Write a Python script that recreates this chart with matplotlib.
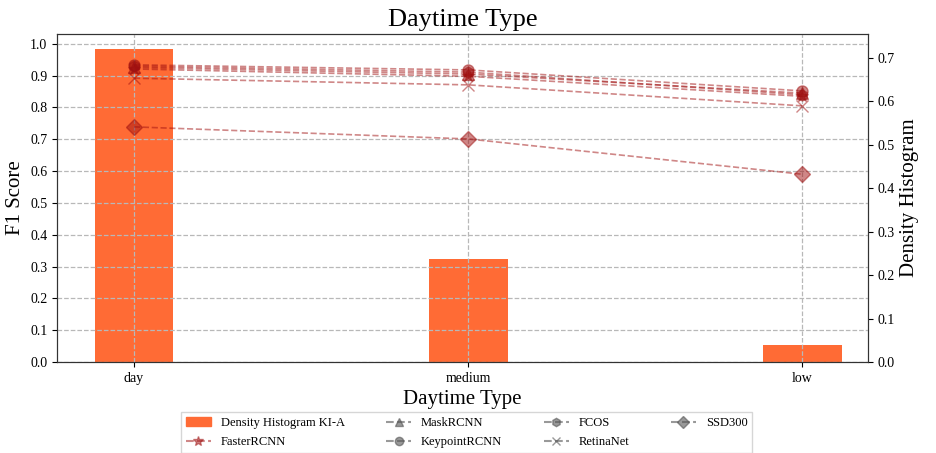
import matplotlib.pyplot as plt
from matplotlib.lines import Line2D
from matplotlib.patches import Patch
import numpy as np

plt.rcParams['font.family'] = ['Liberation Serif', 'DejaVu Serif']

# data
categories = ["day", "medium", "low"]
density = [0.721, 0.237, 0.040]

faster_rcnn = [0.921, 0.898, 0.835]
mask_rcnn = [0.926, 0.905, 0.845]
keypoint_rcnn = [0.934, 0.918, 0.852]
fcos = [0.930, 0.911, 0.840]
retinanet = [0.892, 0.871, 0.805]
ssd300 = [0.739, 0.701, 0.590]

models = ["FasterRCNN", "MaskRCNN", "KeypointRCNN", "FCOS", "RetinaNet", "SSD300"]
scores = [faster_rcnn, mask_rcnn, keypoint_rcnn, fcos, retinanet, ssd300]
markers = ["*", "^", "o", "h", "x", "D"]

x = np.arange(len(categories))
line_col = "#a01010"

fig = plt.figure(figsize=(9.37, 4.53), dpi=100)
ax = fig.add_axes([0.061, 0.201, 0.865, 0.724])
ax2 = ax.twinx()

ax2.bar(x, density, width=0.235, color="#FF6B35", zorder=1)
ax2.set_ylim(0, 0.755)
ax2.set_ylabel("Density Histogram", fontsize=15)
ax2.tick_params(labelsize=10)

for name, vals, m in zip(models, scores, markers):
    ax.plot(x, vals, linestyle="--", marker=m, color=line_col, alpha=0.5,
            markersize=8 if m != "*" else 9, linewidth=1.2, label=name)

ax.set_zorder(ax2.get_zorder() + 1)
ax.patch.set_visible(False)

ax.set_xlim(-0.23, 2.195)
ax.set_ylim(0, 1.031)
ax.set_yticks(np.arange(0, 1.01, 0.1))
ax.set_xticks(x)
ax.set_xticklabels(categories)
ax.tick_params(labelsize=10)
ax.grid(True, linestyle="--", color="#b8b8b8", linewidth=0.9)
ax.set_xlabel("Daytime Type", fontsize=15)
ax.set_ylabel("F1 Score", fontsize=15)
ax.set_title("Daytime Type", fontsize=19)

for a in (ax, ax2):
    for s in a.spines.values():
        s.set_color("#333333")

# legend
gray = "#555555"
handles = [Patch(color="#FF6B35", label="Density Histogram KI-A"),
           Line2D([], [], linestyle="--", marker="*", color=line_col, alpha=0.5, markersize=7, label="FasterRCNN")]
for name, m in zip(models[1:], markers[1:]):
    handles.append(Line2D([], [], linestyle="--", marker=m, color=gray, alpha=0.6, markersize=6, label=name))

fig.legend(handles=handles, loc="upper center", bbox_to_anchor=(0.498, 0.104),
           ncol=4, fontsize=9, frameon=True, fancybox=False, edgecolor="#cccccc",
           handlelength=2.0, columnspacing=3.3, borderpad=0.4, labelspacing=0.55)

fig.savefig("out.png", dpi=100)
